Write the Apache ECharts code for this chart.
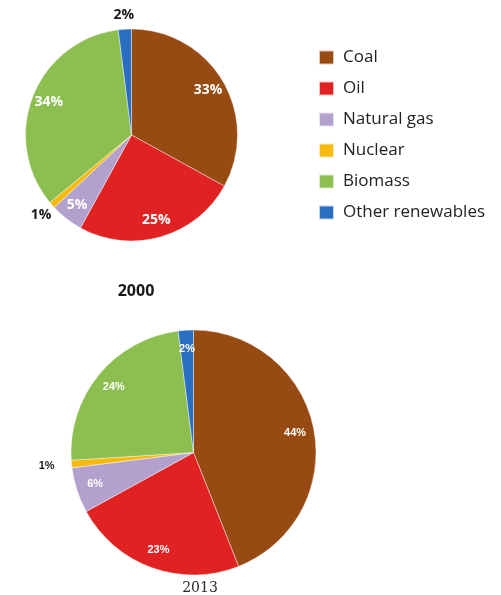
<!DOCTYPE html>
<html>
<head>
<meta charset="utf-8">
<script src="https://cdn.jsdelivr.net/npm/echarts@6/dist/echarts.min.js"></script>
<style>
html,body{margin:0;padding:0;background:#fff;}
#chart{width:501px;height:595px;}
</style>
</head>
<body>
<div id="chart"></div>
<script>
// ---- data ----
const categories = ['Coal', 'Oil', 'Natural gas', 'Nuclear', 'Biomass', 'Other renewables'];
const values2000 = [33, 25, 5, 1, 34, 2];
const values2013 = [44, 23, 6, 1, 24, 2];
const titles = ['2000', '2013'];
// which slices carry their label outside the pie
const outside2000 = ['Nuclear', 'Other renewables'];
const outside2013 = ['Nuclear'];

const colors = ['#974A12', '#E02222', '#B3A1CD', '#F6B90E', '#8CBE50', '#2A6EC1'];

function mainSeries(vals, center, r) {
  return {
    type: 'pie', center: center, radius: [0, r], startAngle: 90, clockwise: true,
    avoidLabelOverlap: false, silent: true,
    itemStyle: { borderColor: 'rgba(255,255,255,0.7)', borderWidth: 0.6 },
    label: { show: false }, labelLine: { show: false },
    data: categories.map((c, i) => ({ name: c, value: vals[i], itemStyle: { color: colors[i] } }))
  };
}
function labelSeries(vals, center, radius, showList, invert, lab) {
  return {
    type: 'pie', center: center, radius: radius, startAngle: 90, clockwise: true,
    avoidLabelOverlap: false, silent: true,
    itemStyle: { color: 'rgba(0,0,0,0)', borderWidth: 0 },
    labelLine: { show: false },
    label: Object.assign({ position: 'inside', formatter: '{c}%' }, lab),
    data: categories.map((c, i) => {
      const inList = showList.indexOf(c) >= 0;
      const show = invert ? !inList : inList;
      return { name: c, value: vals[i], label: { show: show } };
    })
  };
}

const c1 = [131.5, 135], r1 = 106;
const c2 = [193.5, 452.5], r2 = 122.5;

const topInner = { color: '#ffffff', fontFamily: 'Open Sans', fontWeight: 'bold', fontSize: 14 };
const topOuter = { color: '#1a1a1a', fontFamily: 'Open Sans', fontWeight: 'bold', fontSize: 14 };
const botInner = { color: '#ffffff', fontFamily: 'Liberation Sans', fontWeight: 'bold', fontSize: 11 };
const botOuter = { color: '#1a1a1a', fontFamily: 'Liberation Sans', fontWeight: 'bold', fontSize: 11 };

const chart = echarts.init(document.getElementById('chart'), null, { renderer: 'canvas' });
chart.setOption({
  backgroundColor: '#ffffff',
  animation: false,
  title: [
    { text: titles[0], left: 131, top: 278, textAlign: 'center',
      textStyle: { fontFamily: 'Open Sans', fontWeight: 'bold', fontSize: 16, color: '#1a1a1a' } },
    { text: titles[1], left: 195, top: 576, textAlign: 'center',
      textStyle: { fontFamily: 'DejaVu Serif', fontWeight: 'normal', fontSize: 14, color: '#2a2a2a' } }
  ],
  legend: {
    orient: 'vertical', left: 313, top: 44,
    icon: 'rect', itemWidth: 15, itemHeight: 14, itemGap: 14,
    data: categories,
    textStyle: { fontFamily: 'Open Sans', fontSize: 17, color: '#222222', padding: [0, 0, 0, 4] },
    selectedMode: false
  },
  series: [
    mainSeries(values2000, c1, r1),
    labelSeries(values2000, c1, [r1 * 0.62, r1], outside2000, true, topInner),
    labelSeries(values2000, c1, [r1, r1 * 1.22], outside2000, false, topOuter),
    mainSeries(values2013, c2, r2),
    labelSeries(values2013, c2, [r2 * 0.64, r2], outside2013, true, botInner),
    labelSeries(values2013, c2, [r2, r2 * 1.36], outside2013, false, botOuter)
  ]
});
</script>
</body>
</html>
